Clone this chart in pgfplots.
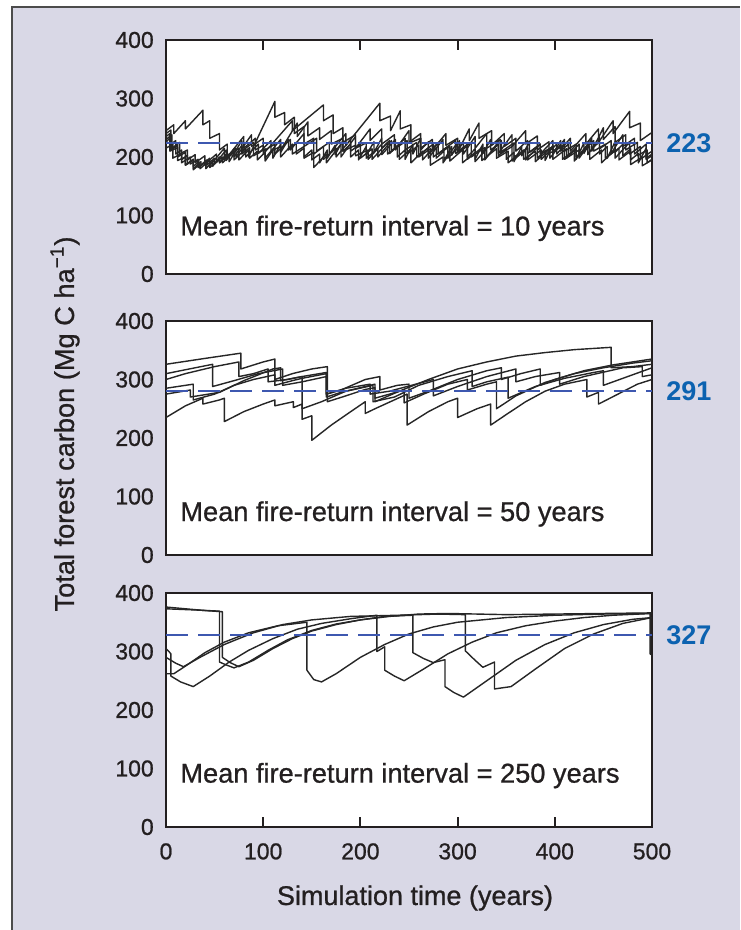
\documentclass[border=0pt]{standalone}
\usepackage{pgfplots}
\pgfplotsset{compat=1.18}
\usepackage{fontspec}
\setmainfont{Liberation Sans}
\newfontfamily\medfont{Liberation Sans}[BoldFont={Liberation Sans}, BoldFeatures={FakeBold=0.8}]

\definecolor{bg}{RGB}{217,216,230}
\definecolor{txt}{RGB}{35,31,32}
\definecolor{meanline}{RGB}{62,88,176}
\definecolor{meantxt}{RGB}{12,98,176}

\pgfplotsset{
  panel/.style={
    scale only axis, width=243pt, height=117pt, anchor=south west,
    xmin=0, xmax=500, ymin=0, ymax=400,
    ytick={0,100,200,300,400}, ytick style={draw=none},
    xtick={100,200,300,400},
    tick align=inside, major tick length=5pt,
    tick style={line width=1pt, color=txt},
    axis line style={line width=1pt, color=txt},
    axis background/.style={fill=white},
    /pgf/number format/assume math mode=true,
    ticklabel style={font=\medfont\bfseries\fontsize{11.5}{13}\selectfont, text=txt},
    yticklabel style={xshift=-2.6pt},
    xticklabel style={yshift=-4.6pt},
  },
  trace/.style={black!85, line width=0.7pt, line join=round, no markers},
  mean/.style={meanline, line width=1pt, dash pattern=on 11pt off 5pt, no markers},
}

\begin{document}
\begin{tikzpicture}[x=1pt,y=1pt]
\useasboundingbox (0,0) rectangle (370,465);
\fill[bg] (6,0) rectangle (370,461.5);
\draw[gray!60!black, line width=0.8pt] (6,0) -- (6,461.5) -- (370,461.5);

% mean fire-return interval = 10 years
\begin{axis}[panel, at={(83pt,328pt)}, xtick pos=right, xticklabels={}]
\addplot[trace] coordinates {(0,245)(8,255)(8,240)(20,262)(20,248)(38,280)(38,255)(45,262)(45,232)(55,240)(55,212)(63,222)(63,200)(75,215)(75,195)(85,212)(85,200)(112,295)(112,268)(122,276)(122,255)(132,268)(132,240)(142,252)(142,222)(152,232)(152,205)(162,218)(162,196)(175,215)(175,200)(190,230)(190,210)(200,222)(200,198)(212,214)(212,196)(228,225)(228,205)(240,220)(240,196)(252,214)(252,190)(264,210)(264,195)(280,225)(280,205)(292,218)(292,193)(305,212)(305,190)(318,208)(318,192)(330,214)(330,200)(345,228)(345,206)(356,218)(356,193)(370,212)(370,195)(385,222)(385,205)(398,218)(398,196)(412,214)(412,198)(425,222)(425,203)(440,228)(440,210)(452,222)(452,198)(466,215)(466,195)(478,210)(478,187)(490,200)(490,185)(500,195)};
\addplot[trace] coordinates {(0,230)(6,238)(6,215)(14,225)(14,205)(22,212)(22,195)(30,204)(30,190)(40,202)(40,188)(52,205)(52,192)(62,212)(62,198)(80,235)(80,215)(92,232)(92,212)(100,220)(100,205)(130,262)(130,245)(162,289)(162,262)(172,272)(172,240)(182,250)(182,225)(195,238)(195,215)(206,224)(206,198)(218,214)(218,200)(232,228)(232,210)(246,232)(246,212)(258,225)(258,200)(270,216)(270,198)(285,230)(285,212)(298,228)(298,206)(310,218)(310,196)(325,216)(325,194)(340,214)(340,198)(352,210)(352,190)(368,212)(368,196)(380,210)(380,192)(395,214)(395,198)(410,230)(410,210)(422,222)(422,200)(436,218)(436,196)(448,212)(448,190)(462,212)(462,198)(477,225)(477,205)(488,218)(488,196)(500,210)};
\addplot[trace] coordinates {(0,225)(5,235)(5,212)(12,220)(12,200)(20,208)(20,186)(28,196)(28,180)(36,192)(36,185)(45,198)(45,185)(60,215)(60,196)(72,215)(72,200)(88,238)(88,218)(100,232)(100,210)(112,222)(112,205)(128,230)(128,212)(142,240)(142,218)(155,232)(155,210)(168,225)(168,205)(185,240)(185,220)(220,292)(220,262)(231,270)(231,245)(241,279)(241,248)(252,255)(252,225)(262,232)(262,205)(275,222)(275,200)(290,218)(290,198)(306,225)(306,205)(318,235)(318,215)(330,240)(330,215)(344,230)(344,208)(358,224)(358,200)(372,215)(372,195)(386,212)(386,196)(402,222)(402,205)(416,232)(416,210)(432,240)(432,222)(445,248)(445,225)(460,262)(460,240)(477,278)(477,250)(488,258)(488,228)(500,242)};
\addplot[trace] coordinates {(0,215)(7,222)(7,198)(16,206)(16,190)(25,200)(25,188)(33,196)(33,182)(42,195)(42,186)(50,198)(50,188)(58,200)(58,190)(70,208)(70,195)(82,214)(82,200)(95,222)(95,206)(108,228)(108,210)(118,218)(118,200)(130,222)(130,205)(142,218)(142,198)(152,208)(152,182)(165,205)(165,190)(180,222)(180,200)(195,235)(195,215)(210,248)(210,228)(222,248)(222,222)(235,238)(235,214)(248,228)(248,205)(260,220)(260,200)(272,214)(272,186)(285,200)(285,190)(300,225)(300,208)(312,248)(312,228)(322,258)(322,232)(335,245)(335,220)(348,240)(348,218)(360,232)(360,210)(372,228)(372,206)(385,222)(385,205)(398,228)(398,210)(410,222)(410,196)(425,212)(425,198)(438,228)(438,210)(450,250)(450,230)(462,252)(462,225)(473,238)(473,212)(485,225)(485,202)(495,212)(495,190)(500,196)};
\addplot[trace] coordinates {(0,235)(4,240)(4,210)(12,216)(12,194)(20,200)(20,186)(28,195)(28,178)(35,188)(35,180)(45,194)(45,182)(55,196)(55,190)(65,205)(65,192)(78,228)(78,210)(90,225)(90,202)(102,214)(102,198)(118,230)(118,212)(135,258)(135,235)(146,260)(146,236)(158,250)(158,230)(170,245)(170,222)(182,232)(182,210)(195,220)(195,202)(208,212)(208,196)(222,222)(222,204)(236,230)(236,212)(250,245)(250,225)(262,240)(262,215)(274,230)(274,212)(288,240)(288,220)(300,232)(300,210)(314,225)(314,200)(328,216)(328,195)(342,226)(342,206)(356,238)(356,218)(370,245)(370,222)(382,236)(382,212)(394,226)(394,206)(408,218)(408,196)(420,212)(420,193)(434,222)(434,204)(446,234)(446,214)(458,228)(458,206)(470,238)(470,218)(482,232)(482,205)(494,222)(494,196)(500,202)};
\addplot[trace] coordinates {(0,240)(5,246)(5,222)(10,228)(10,205)(16,212)(16,195)(22,203)(22,188)(28,196)(28,184)(34,192)(34,182)(41,193)(41,180)(48,192)(48,184)(55,200)(55,190)(62,205)(62,194)(70,214)(70,200)(78,220)(78,205)(86,216)(86,198)(94,210)(94,195)(102,208)(102,193)(110,212)(110,198)(118,222)(118,208)(126,230)(126,212)(134,225)(134,205)(142,215)(142,200)(150,212)(150,195)(158,205)(158,190)(166,212)(166,198)(174,220)(174,204)(182,228)(182,210)(190,222)(190,200)(198,212)(198,195)(206,218)(206,203)(214,226)(214,208)(222,232)(222,215)(230,228)(230,206)(238,218)(238,200)(246,212)(246,196)(254,222)(254,205)(262,232)(262,212)(270,226)(270,205)(278,216)(278,198)(286,210)(286,194)(294,218)(294,203)(302,228)(302,210)(310,222)(310,200)(318,214)(318,196)(326,222)(326,206)(334,230)(334,212)(342,222)(342,202)(350,214)(350,196)(358,208)(358,192)(366,218)(366,202)(374,226)(374,208)(382,218)(382,198)(390,210)(390,194)(398,220)(398,205)(406,228)(406,210)(414,222)(414,202)(422,214)(422,196)(430,224)(430,206)(438,232)(438,214)(446,226)(446,205)(454,218)(454,198)(462,226)(462,208)(470,222)(470,202)(478,214)(478,195)(486,206)(486,190)(494,215)(494,198)(500,205)};
\addplot[mean] coordinates {(0,224)(500,224)};
\end{axis}

% mean fire-return interval = 50 years
\begin{axis}[panel, at={(83pt,187.5pt)}, xtick=\empty]
\addplot[trace] coordinates {(0,326)(40,336)(77,345)(77,318)(100,330)(112,335)(112,300)(130,310)(150,318)(166,322)(166,262)(185,272)(205,283)(215,286)(215,262)(240,280)(270,300)(300,318)(330,330)(360,340)(390,346)(420,351)(458,355)(458,320)(480,322)(500,326)};
\addplot[trace] coordinates {(0,235)(20,255)(38,268)(38,258)(55,265)(60,268)(60,228)(80,245)(100,258)(112,265)(112,255)(131,262)(131,252)(140,258)(140,232)(150,238)(150,196)(170,222)(190,245)(205,262)(205,242)(215,250)(248,275)(248,222)(270,245)(290,262)(300,268)(300,235)(320,250)(334,258)(334,222)(350,240)(370,262)(390,280)(410,292)(433,300)(433,270)(445,278)(445,258)(465,275)(485,292)(500,300)};
\addplot[trace] coordinates {(0,285)(28,292)(28,265)(50,275)(70,290)(90,300)(112,308)(112,290)(130,298)(140,302)(165,310)(165,275)(180,282)(205,300)(220,305)(220,282)(238,290)(250,292)(250,268)(270,280)(300,300)(330,315)(345,320)(345,300)(365,310)(385,318)(385,290)(400,300)(430,315)(460,325)(500,335)};
\addplot[trace] coordinates {(0,275)(25,282)(25,270)(55,278)(80,298)(110,318)(118,320)(118,298)(140,305)(165,312)(165,270)(180,278)(213,290)(213,262)(235,270)(260,290)(290,305)(315,315)(315,288)(330,296)(352,304)(352,268)(380,288)(410,302)(440,312)(450,315)(450,290)(475,305)(500,320)};
\addplot[trace] coordinates {(0,300)(20,310)(50,322)(75,330)(75,305)(90,310)(105,318)(105,296)(125,300)(140,305)(140,250)(160,262)(185,280)(215,292)(215,268)(230,275)(245,282)(245,260)(265,275)(290,292)(310,300)(310,282)(330,292)(340,296)(340,250)(360,272)(390,295)(420,310)(450,320)(480,328)(500,332)};
\addplot[trace] coordinates {(0,310)(30,320)(48,326)(48,288)(70,298)(95,310)(120,318)(120,290)(140,296)(165,305)(165,275)(185,285)(210,292)(210,275)(230,280)(275,300)(275,272)(300,288)(330,305)(360,318)(360,296)(380,305)(405,312)(405,292)(430,305)(470,320)(490,322)(490,305)(500,308)};
\addplot[mean] coordinates {(0,281)(500,281)};
\end{axis}

% mean fire-return interval = 250 years
\begin{axis}[panel, at={(83pt,51.5pt)}, xtick pos=left,
  xtick={0,100,200,300,400,500}]
\addplot[trace] coordinates {(0,376)(20,373)(40,370)(58,368)(58,290)(66,281)(75,274)(90,285)(110,305)(130,322)(150,335)(175,346)(200,354)(225,360)(254,362)(254,298)(265,288)(275,281)(287,286)(287,240)(296,230)(306,222)(330,250)(360,285)(390,312)(420,332)(450,346)(480,355)(500,358)};
\addplot[trace] coordinates {(0,305)(3,300)(5,296)(5,258)(15,248)(28,240)(45,258)(65,282)(85,302)(110,322)(135,338)(160,348)(190,356)(217,362)(217,300)(222,305)(225,308)(225,268)(235,258)(245,250)(265,270)(290,296)(315,316)(340,332)(370,344)(400,352)(430,358)(460,362)(500,365)};
\addplot[trace] coordinates {(0,290)(10,280)(18,274)(35,290)(60,312)(90,332)(120,346)(150,354)(190,360)(240,362)(280,364)(308,363)(308,301)(318,285)(326,273)(338,282)(338,236)(355,240)(380,270)(410,305)(440,330)(470,348)(500,358)};
\addplot[trace] coordinates {(0,262)(8,262)(20,275)(40,298)(60,316)(85,332)(115,344)(145,350)(145,268)(152,252)(160,248)(175,262)(200,290)(225,312)(250,330)(275,342)(300,350)(350,358)(400,362)(450,364)(498,365)(498,296)(500,294)};
\addplot[trace] coordinates {(0,373)(30,371)(55,369)(55,282)(62,277)(70,272)(85,282)(105,302)(125,320)(150,336)(175,347)(200,354)(230,360)(260,364)(290,365)(320,364)(350,363)(400,364)(450,365)(500,366)};
\addplot[mean] coordinates {(0,329)(500,329)};
\end{axis}

% panel captions
\begin{scope}[every node/.style={anchor=west, inner sep=0pt, text=txt, font=\medfont\bfseries\fontsize{13.6}{16}\selectfont}]
\node at (90,350.8) {Mean fire-return interval = 10 years};
\node at (90,208) {Mean fire-return interval = 50 years};
\node at (90,77.2) {Mean fire-return interval = 250 years};
\end{scope}

% mean values
\begin{scope}[every node/.style={anchor=west, inner sep=0pt, text=meantxt, font=\fontsize{13.5}{15}\selectfont\bfseries}]
\node at (333,393.5) {223};
\node at (333,269.5) {291};
\node at (333,147.3) {327};
\end{scope}

% axis titles
\node[text=txt, font=\medfont\bfseries\fontsize{13.5}{16}\selectfont] at (207.5,16) {Simulation time (years)};
\node[text=txt, font=\medfont\bfseries\fontsize{13.6}{16}\selectfont, rotate=90] at (32.5,253) {Total forest carbon (Mg C ha\textsuperscript{−1})};
\end{tikzpicture}
\end{document}
